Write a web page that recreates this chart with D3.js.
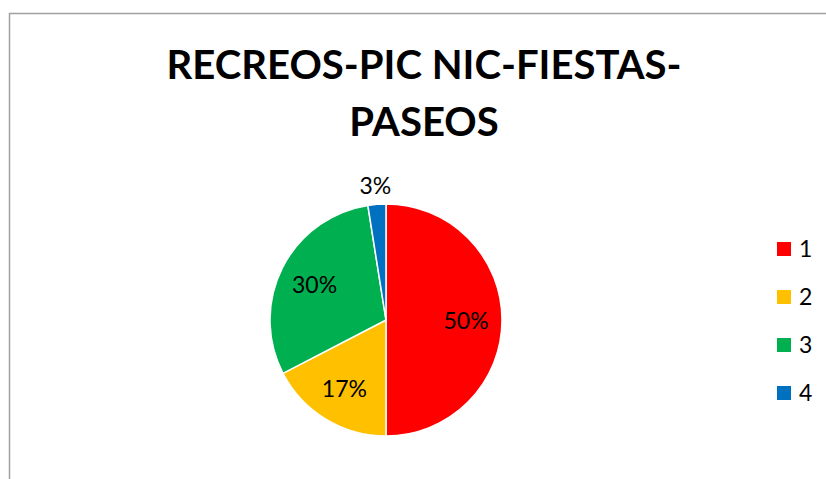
<!DOCTYPE html>
<html lang="es">
<meta charset="utf-8">
<head>
	<title>Recreos</title>
</head>

<style type="text/css">
	body { margin: 0; background: white; }

	.frame {
		fill: white;
		stroke: rgb(160,160,160);
		stroke-width: 1.5;
	}

	.chartTitle {
		font-family: 'Lato', sans-serif;
		font-weight: 700;
		fill: black;
	}

	.sliceLabel, .legendText {
		font-family: 'Lato', sans-serif;
		font-weight: 400;
		font-size: 23px;
		fill: black;
	}

	.slice {
		stroke: white;
		stroke-width: 1.5;
	}
</style>

<script src="https://d3js.org/d3.v7.min.js"></script>

<body>
	<script type="text/javascript">

		// data
		var categories = ["1", "2", "3", "4"],
			values = [50, 17.4, 30.1, 2.5],
			colours = ["#ff0000", "#ffc000", "#00b050", "#0070c0"],
			titleLines = ["RECREOS-PIC NIC-FIESTAS-", "PASEOS"];

		var w = 826,
			h = 479,
			cx = 386,
			cy = 320,
			rad = 116;

		var svg = d3.select("body")
					.append("svg")
					.attr("width", w)
					.attr("height", h);

		// chart area border (runs off right and bottom)
		svg.append("rect")
		   .attr("class", "frame")
		   .attr("x", 9.5)
		   .attr("y", 13.5)
		   .attr("width", w + 20)
		   .attr("height", h + 20);

		// title, scaled to the width in the picture
		var titleTargetW = 515,
			titleX = 424;
		var t1 = svg.append("text")
					.attr("class", "chartTitle")
					.attr("text-anchor", "middle")
					.attr("x", titleX)
					.attr("y", 79)
					.style("font-size", "40px")
					.text(titleLines[0]);
		var fs = 40 * titleTargetW / t1.node().getComputedTextLength();
		t1.style("font-size", fs + "px");

		svg.append("text")
		   .attr("class", "chartTitle")
		   .attr("text-anchor", "middle")
		   .attr("x", titleX)
		   .attr("y", 136)
		   .style("font-size", fs + "px")
		   .text(titleLines[1]);

		// pie
		var pie = d3.pie().sort(null).value(function(d) { return d; });
		var arcs = pie(values);
		var total = d3.sum(values);

		var arc = d3.arc().innerRadius(0).outerRadius(rad);
		var labelArc = d3.arc().innerRadius(rad * 0.69).outerRadius(rad * 0.69);
		var outerArc = d3.arc().innerRadius(rad + 19).outerRadius(rad + 19);

		var g = svg.append("g")
				   .attr("transform", "translate(" + cx + "," + cy + ")");

		g.selectAll(".slice")
		 .data(arcs)
		 .enter()
		 .append("path")
		 .attr("class", "slice")
		 .attr("fill", function(d, i) { return colours[i]; })
		 .attr("d", arc);

		g.selectAll(".sliceLabel")
		 .data(arcs)
		 .enter()
		 .append("text")
		 .attr("class", "sliceLabel")
		 .attr("text-anchor", "middle")
		 .attr("dominant-baseline", "central")
		 .attr("transform", function(d) {
			 var p = (d.value / total < 0.05) ? outerArc.centroid(d) : labelArc.centroid(d);
			 return "translate(" + p[0] + "," + p[1] + ")";
		 })
		 .text(function(d) { return Math.round(d.value / total * 100) + "%"; });

		// legend
		var legendY = d3.scalePoint()
						.domain(categories)
						.range([249, 393]);

		var legend = svg.selectAll(".legendItem")
						.data(categories)
						.enter()
						.append("g")
						.attr("class", "legendItem")
						.attr("transform", function(d) { return "translate(777," + legendY(d) + ")"; });

		legend.append("rect")
			  .attr("x", 0)
			  .attr("y", -7)
			  .attr("width", 14)
			  .attr("height", 14)
			  .attr("fill", function(d, i) { return colours[i]; });

		legend.append("text")
			  .attr("class", "legendText")
			  .attr("x", 22)
			  .attr("y", 8)
			  .text(function(d) { return d; });

	</script>
</body>
</html>
